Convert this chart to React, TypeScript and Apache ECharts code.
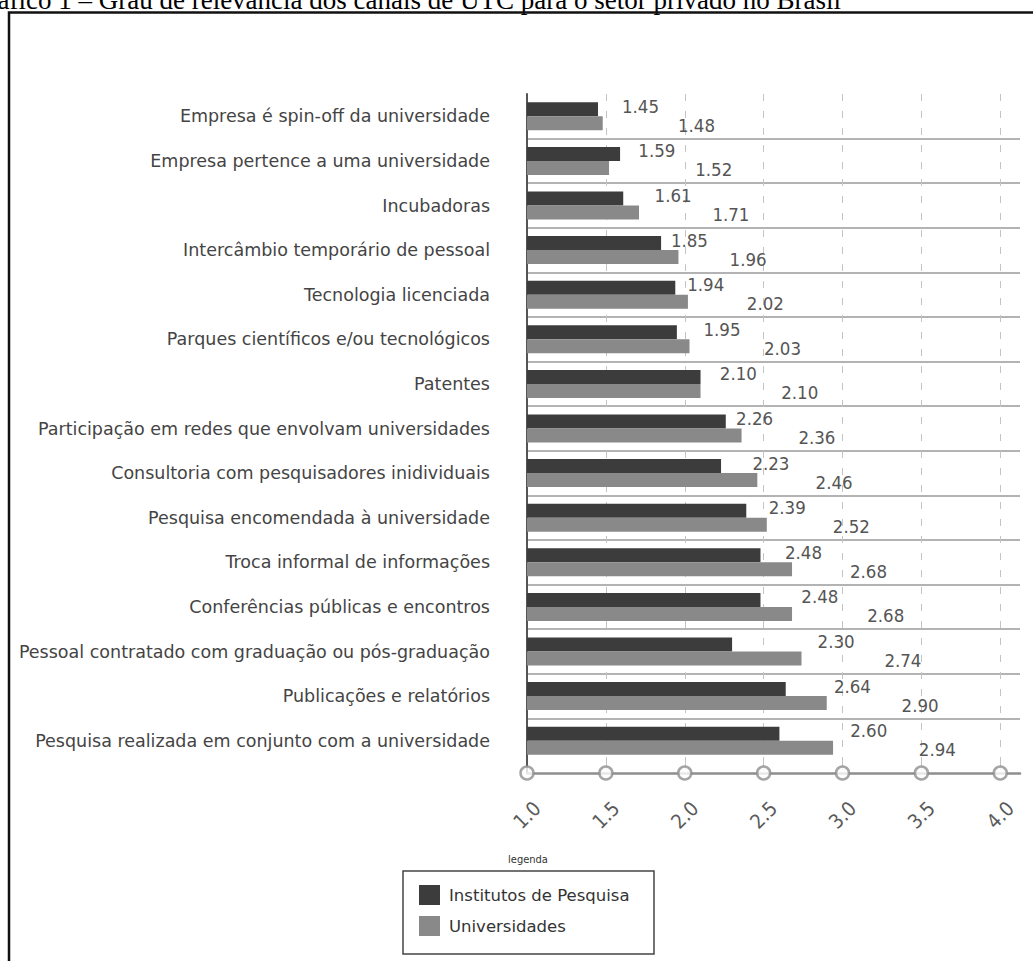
import React, { useEffect, useRef } from "react";
import * as echarts from "echarts";

const categories = [
  "Empresa é spin-off da universidade",
  "Empresa pertence a uma universidade",
  "Incubadoras",
  "Intercâmbio temporário de pessoal",
  "Tecnologia licenciada",
  "Parques científicos e/ou tecnológicos",
  "Patentes",
  "Participação em redes que envolvam universidades",
  "Consultoria com pesquisadores inidividuais",
  "Pesquisa encomendada à universidade",
  "Troca informal de informações",
  "Conferências públicas e encontros",
  "Pessoal contratado com graduação ou pós-graduação",
  "Publicações e relatórios",
  "Pesquisa realizada em conjunto com a universidade",
];
const institutos = [1.45, 1.59, 1.61, 1.85, 1.94, 1.95, 2.1, 2.26, 2.23, 2.39, 2.48, 2.48, 2.3, 2.64, 2.6];
const universidades = [1.48, 1.52, 1.71, 1.96, 2.02, 2.03, 2.1, 2.36, 2.46, 2.52, 2.68, 2.68, 2.74, 2.9, 2.94];
const xTicks = [1.0, 1.5, 2.0, 2.5, 3.0, 3.5, 4.0];
const seriesNames = ["Institutos de Pesquisa", "Universidades"];
const titleText = "Gráfico 1 – Grau de relevância dos canais de UTC para o setor privado no Brasil";

const FONT_C = "'DejaVu Sans Condensed', 'DejaVu Sans', sans-serif";
const FONT = "'DejaVu Sans', sans-serif";

export default function App() {
  const ref = useRef<HTMLDivElement>(null);
  useEffect(() => {
    if (!ref.current) return;
    const chart = echarts.init(ref.current, undefined, { renderer: "svg" });
    const xMin = 1;
    const xMax = 4.125;
    const splitDashed = {
      show: true,
      showMinLine: false,
      showMaxLine: false,
      lineStyle: { color: "#c4c4c4", width: 1, type: [7, 10] },
    };
    const labelStyle = { fontFamily: FONT_C, fontSize: 18.5, color: "#555" };
    chart.setOption({
      animation: false,
      backgroundColor: "#fff",
      textStyle: { fontFamily: FONT },
      grid: [
        { left: 527, right: 13, top: 94, height: 669 },
        { left: 527, right: 13, top: 763, height: 10 },
      ],
      xAxis: [
        {
          type: "value",
          gridIndex: 0,
          min: xMin,
          max: xMax,
          interval: 0.5,
          axisLine: { show: false },
          axisTick: { show: false },
          axisLabel: { show: false },
          splitLine: splitDashed,
        },
        {
          type: "value",
          gridIndex: 1,
          min: xMin,
          max: xMax,
          interval: 0.5,
          axisLine: { show: true, lineStyle: { color: "#8e8e8e", width: 2.5 } },
          axisTick: { show: false },
          axisLabel: {
            rotate: 45,
            align: "center",
            verticalAlign: "middle",
            margin: 42,
            fontFamily: FONT_C,
            fontSize: 20,
            color: "#5a5a5a",
            formatter: (v: number) => (xTicks.some((t) => Math.abs(t - v) < 1e-9) ? v.toFixed(1) : ""),
          },
          splitLine: splitDashed,
        },
      ],
      yAxis: [
        {
          type: "category",
          gridIndex: 0,
          inverse: true,
          data: categories,
          axisLine: { show: true, lineStyle: { color: "#555", width: 2 } },
          axisTick: { show: false },
          axisLabel: { margin: 37, fontFamily: FONT, fontSize: 17.5, color: "#444" },
          splitLine: {
            show: true,
            showMinLine: false,
            showMaxLine: false,
            lineStyle: { color: "#9a9a9a", width: 1.5 },
          },
        },
        {
          type: "value",
          gridIndex: 1,
          min: 0,
          max: 1,
          axisLine: { show: true, lineStyle: { color: "#555", width: 2 } },
          axisTick: { show: false },
          axisLabel: { show: false },
          splitLine: { show: false },
        },
      ],
      legend: {
        data: seriesNames,
        orient: "vertical",
        left: 419,
        top: 885,
        padding: 0,
        itemWidth: 21,
        itemHeight: 20,
        itemGap: 11,
        icon: "rect",
        textStyle: { fontFamily: FONT, fontSize: 16.5, color: "#333", padding: [0, 0, 0, 4] },
      },
      series: [
        {
          name: seriesNames[0],
          type: "bar",
          xAxisIndex: 0,
          yAxisIndex: 0,
          barWidth: 14,
          barGap: "0%",
          itemStyle: { color: "#3c3c3c" },
          data: institutos.map((v, i) => ({
            value: v,
            label: {
              show: true,
              position: [95 + 16.3 * i, 4],
              align: "left",
              verticalAlign: "middle",
              formatter: (p: any) => Number(p.value).toFixed(2),
              ...labelStyle,
            },
          })),
        },
        {
          name: seriesNames[1],
          type: "bar",
          xAxisIndex: 0,
          yAxisIndex: 0,
          barWidth: 14,
          barGap: "0%",
          itemStyle: { color: "#898989" },
          data: universidades.map((v, i) => ({
            value: v,
            label: {
              show: true,
              position: [151 + 17.2 * i, 9],
              align: "left",
              verticalAlign: "middle",
              formatter: (p: any) => Number(p.value).toFixed(2),
              ...labelStyle,
            },
          })),
        },
        {
          type: "scatter",
          xAxisIndex: 1,
          yAxisIndex: 1,
          data: xTicks.map((t) => [t, 0]),
          symbol: "circle",
          symbolSize: 13,
          clip: false,
          z: 10,
          silent: true,
          itemStyle: { color: "#fff", borderColor: "#8e8e8e", borderWidth: 2.5 },
        },
      ],
      graphic: [
        {
          type: "text",
          left: -31,
          top: -14,
          style: {
            text: titleText,
            font: "27px 'Liberation Serif', 'Times New Roman', serif",
            fill: "#000",
          },
          z: 1,
        },
        {
          type: "rect",
          shape: { x: 9, y: 12.5, width: 1100, height: 1000 },
          style: { fill: "none", stroke: "#111", lineWidth: 2.5 },
          z: 2,
        },
        {
          type: "rect",
          shape: { x: 403, y: 871, width: 251, height: 83 },
          style: { fill: "none", stroke: "#444", lineWidth: 1.5 },
          z: 2,
        },
        {
          type: "text",
          x: 528,
          y: 859,
          style: {
            text: "legenda",
            font: "11px 'DejaVu Sans Condensed', 'DejaVu Sans', sans-serif",
            fill: "#333",
            align: "center",
            verticalAlign: "middle",
          },
          z: 2,
        },
      ],
    });
    return () => chart.dispose();
  }, []);
  return (
    <div
      ref={ref}
      style={{ position: "absolute", left: 0, top: 0, width: 1033, height: 961, background: "#fff" }}
    />
  );
}
